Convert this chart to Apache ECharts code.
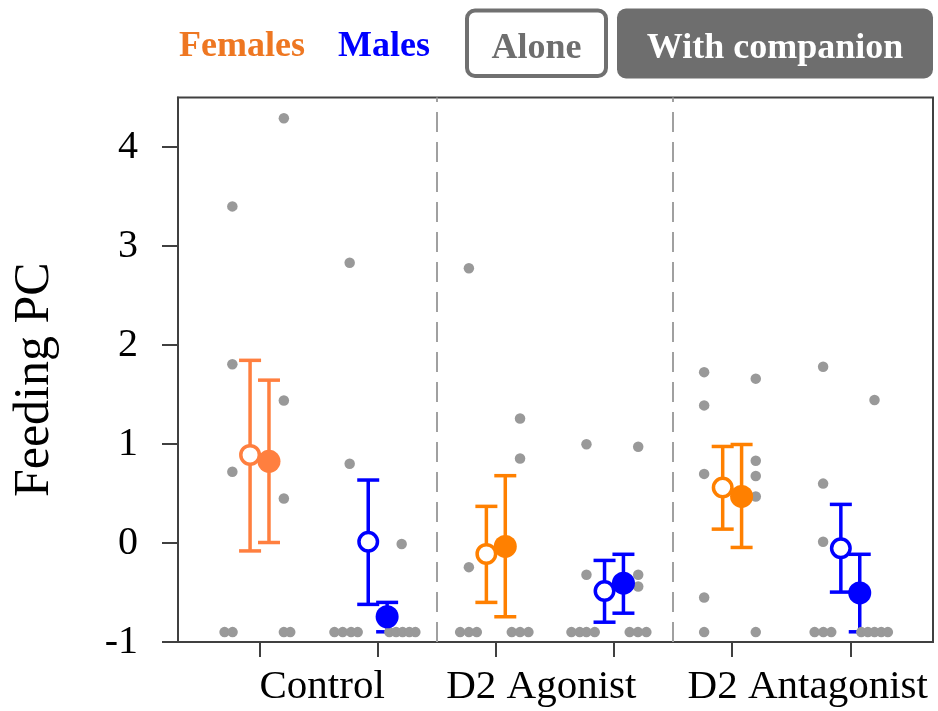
<!DOCTYPE html>
<html>
<head>
<meta charset="utf-8">
<script src="https://cdn.jsdelivr.net/npm/echarts@6/dist/echarts.min.js"></script>
<style>html,body{margin:0;padding:0;background:#fff;}#c{width:938px;height:711px;}</style>
</head>
<body>
<div id="c"></div>
<script>
// ---- data ----
const groups = ['Control', 'D2 Agonist', 'D2 Antagonist'];
const groupLabelPos = [1.53, 3.385, 5.64];
const xTicks = [1, 2, 3, 4, 5, 6];
const yTicks = [-1, 0, 1, 2, 3, 4];
const separators = [2.5, 4.5];
// positions: female = 2g+1, male = 2g+2
const femaleColors = ['#FF7F3F', '#FF8000', '#FF8000'];
const maleColor = '#0000FF';

// means and error bars [Control, D2 Agonist, D2 Antagonist]
const meanAloneF = [0.89, -0.11, 0.56];
const loAloneF   = [-0.08, -0.60, 0.14];
const hiAloneF   = [1.845, 0.37, 0.975];
const meanCompF  = [0.825, -0.035, 0.47];
const loCompF    = [0.005, -0.745, -0.045];
const hiCompF    = [1.645, 0.68, 0.995];
const meanAloneM = [0.012, -0.485, -0.053];
const loAloneM   = [-0.62, -0.80, -0.496];
const hiAloneM   = [0.636, -0.176, 0.39];
const meanCompM  = [-0.745, -0.406, -0.504];
const loCompM    = [-0.897, -0.709, -0.897];
const hiCompM    = [-0.60, -0.114, -0.114];

// individual points: y values and horizontal offsets from the cell position
const ctrlFAloneY = [3.40, 1.805, 0.72, -0.9, -0.9];
const ctrlFAloneDx = [-0.23, -0.23, -0.23, -0.296, -0.228];
const ctrlFCompY = [4.29, 1.44, 0.45, -0.9, -0.9];
const ctrlFCompDx = [0.206, 0.206, 0.206, 0.206, 0.26];
const ctrlMAloneY = [2.83, 0.80, -0.9, -0.9, -0.9, -0.9];
const ctrlMAloneDx = [-0.237, -0.237, -0.366, -0.296, -0.225, -0.169];
const ctrlMCompY = [-0.01, -0.9, -0.9, -0.9, -0.9, -0.9];
const ctrlMCompDx = [0.203, 0.099, 0.156, 0.211, 0.268, 0.319];
const agoFAloneY = [2.776, -0.244, -0.9, -0.9, -0.9];
const agoFAloneDx = [-0.228, -0.228, -0.302, -0.228, -0.161];
const agoFCompY = [1.257, 0.853, -0.9, -0.9, -0.9];
const agoFCompDx = [0.205, 0.205, 0.135, 0.205, 0.276];
const agoMAloneY = [0.997, -0.32, -0.9, -0.9, -0.9, -0.9];
const agoMAloneDx = [-0.233, -0.233, -0.36, -0.29, -0.233, -0.163];
const agoMCompY = [0.972, -0.32, -0.44, -0.9, -0.9, -0.9];
const agoMCompDx = [0.205, 0.205, 0.205, 0.133, 0.203, 0.274];
const antFAloneY = [1.726, 1.39, 0.698, -0.55, -0.9];
const antFAloneDx = [-0.237, -0.237, -0.237, -0.237, -0.237];
const antFCompY = [1.66, 0.83, 0.677, 0.47, -0.9];
const antFCompDx = [0.2, 0.2, 0.2, 0.2, 0.2];
const antMAloneY = [1.78, 0.60, 0.012, -0.9, -0.9, -0.9];
const antMAloneDx = [-0.23, -0.23, -0.23, -0.302, -0.228, -0.161];
const antMCompY = [1.444, -0.9, -0.9, -0.9, -0.9, -0.9];
const antMCompDx = [0.205, 0.093, 0.149, 0.205, 0.262, 0.318];

const aloneOffset = -0.08, compOffset = 0.08;

// ---- build ----
const cells = [
  [1, ctrlFAloneY, ctrlFAloneDx], [1, ctrlFCompY, ctrlFCompDx],
  [2, ctrlMAloneY, ctrlMAloneDx], [2, ctrlMCompY, ctrlMCompDx],
  [3, agoFAloneY, agoFAloneDx], [3, agoFCompY, agoFCompDx],
  [4, agoMAloneY, agoMAloneDx], [4, agoMCompY, agoMCompDx],
  [5, antFAloneY, antFAloneDx], [5, antFCompY, antFCompDx],
  [6, antMAloneY, antMAloneDx], [6, antMCompY, antMCompDx]
];
const rawPts = [];
cells.forEach(([pos, ys, dxs]) => ys.forEach((y, i) => rawPts.push([pos + dxs[i], y])));

const errData = [], openData = [], fillData = [];
groups.forEach((g, i) => {
  const fPos = 2 * i + 1, mPos = 2 * i + 2, fc = femaleColors[i];
  errData.push({value: [fPos + aloneOffset, loAloneF[i], hiAloneF[i]], c: fc});
  errData.push({value: [fPos + compOffset, loCompF[i], hiCompF[i]], c: fc});
  errData.push({value: [mPos + aloneOffset, loAloneM[i], hiAloneM[i]], c: maleColor});
  errData.push({value: [mPos + compOffset, loCompM[i], hiCompM[i]], c: maleColor});
  openData.push({value: [fPos + aloneOffset, meanAloneF[i]], itemStyle: {borderColor: fc}});
  openData.push({value: [mPos + aloneOffset, meanAloneM[i]], itemStyle: {borderColor: maleColor}});
  fillData.push({value: [fPos + compOffset, meanCompF[i]], itemStyle: {color: fc}});
  fillData.push({value: [mPos + compOffset, meanCompM[i]], itemStyle: {color: maleColor}});
});
const errColors = errData.map(d => d.c);

const FONT = 'Liberation Serif';
const AX = '#404040';
const chart = echarts.init(document.getElementById('c'), null, {renderer: 'canvas'});
chart.setOption({
  animation: false,
  backgroundColor: '#fff',
  grid: {left: 178, right: 5, top: 97.5, bottom: 69, show: true, borderColor: AX, borderWidth: 2,
    backgroundColor: 'transparent', containLabel: false, outerBoundsMode: 'none'},
  xAxis: {
    type: 'value', min: 0.31, max: 6.7,
    axisLine: {show: true, onZero: false, lineStyle: {color: AX, width: 2}},
    axisTick: {show: true, customValues: xTicks, length: 15, lineStyle: {color: AX, width: 2}},
    axisLabel: {
      customValues: groupLabelPos, margin: 25,
      formatter: v => { const k = groupLabelPos.findIndex(p => Math.abs(p - v) < 1e-6); return k >= 0 ? groups[k] : ''; },
      fontFamily: FONT, fontSize: 41, color: '#000'
    },
    splitLine: {show: false}
  },
  yAxis: {
    type: 'value', min: -1, max: 4.5, interval: 1,
    name: 'Feeding PC', nameLocation: 'middle', nameGap: 118, nameRotate: 90,
    nameTextStyle: {fontFamily: FONT, fontSize: 50, color: '#000', padding: [0, 20, 0, 0]},
    axisLine: {show: true, onZero: false, lineStyle: {color: AX, width: 2}},
    axisTick: {show: true, customValues: yTicks, length: 16, lineStyle: {color: AX, width: 2}},
    axisLabel: {customValues: yTicks, margin: 40, fontFamily: FONT, fontSize: 40, color: '#000',
      formatter: v => String(v)},
    splitLine: {show: false}
  },
  series: [
    {
      type: 'custom', z: 2,
      data: errData.map(d => d.value),
      renderItem: (params, api) => {
        const x = api.value(0), lo = api.value(1), hi = api.value(2);
        const a = api.coord([x, lo]), b = api.coord([x, hi]);
        const c = errColors[params.dataIndex], hw = 11;
        const st = {stroke: c, lineWidth: 3.5};
        return {type: 'group', children: [
          {type: 'line', shape: {x1: a[0], y1: a[1], x2: b[0], y2: b[1]}, style: st},
          {type: 'line', shape: {x1: a[0] - hw, y1: a[1], x2: a[0] + hw, y2: a[1]}, style: st},
          {type: 'line', shape: {x1: b[0] - hw, y1: b[1], x2: b[0] + hw, y2: b[1]}, style: st}
        ]};
      },
      markLine: {
        silent: true, symbol: 'none', label: {show: false},
        lineStyle: {color: '#a0a0a0', width: 2, type: [20, 10]},
        data: separators.map(s => ({xAxis: s}))
      }
    },
    {
      type: 'scatter', z: 3, data: rawPts, symbol: 'circle', symbolSize: 10.5,
      itemStyle: {color: '#999999', opacity: 1}
    },
    {
      type: 'scatter', z: 4, data: openData, symbol: 'circle', symbolSize: 18.5,
      itemStyle: {color: '#ffffff', borderWidth: 3.5, opacity: 1}
    },
    {
      type: 'scatter', z: 4, data: fillData, symbol: 'circle', symbolSize: 23,
      itemStyle: {opacity: 1}
    }
  ],
  graphic: [
    {type: 'text', left: 179, top: 29, style: {text: 'Females', fill: '#EE7722', font: 'bold 36px "Liberation Serif"'}},
    {type: 'text', left: 338, top: 29, style: {text: 'Males', fill: '#0000FF', font: 'bold 36px "Liberation Serif"'}},
    {type: 'rect', shape: {x: 467, y: 10.5, width: 139, height: 65.5, r: 8}, style: {fill: '#fff', stroke: '#707070', lineWidth: 4}},
    {type: 'text', x: 536.5, y: 49, style: {text: 'Alone', fill: '#6e6e6e', font: 'bold 36px "Liberation Serif"', align: 'center', verticalAlign: 'middle'}},
    {type: 'rect', shape: {x: 617, y: 8.5, width: 316, height: 70, r: 9}, style: {fill: '#6e6e6e'}},
    {type: 'text', x: 775, y: 49, style: {text: 'With companion', fill: '#ffffff', font: 'bold 36px "Liberation Serif"', align: 'center', verticalAlign: 'middle'}}
  ]
});
</script>
</body>
</html>
